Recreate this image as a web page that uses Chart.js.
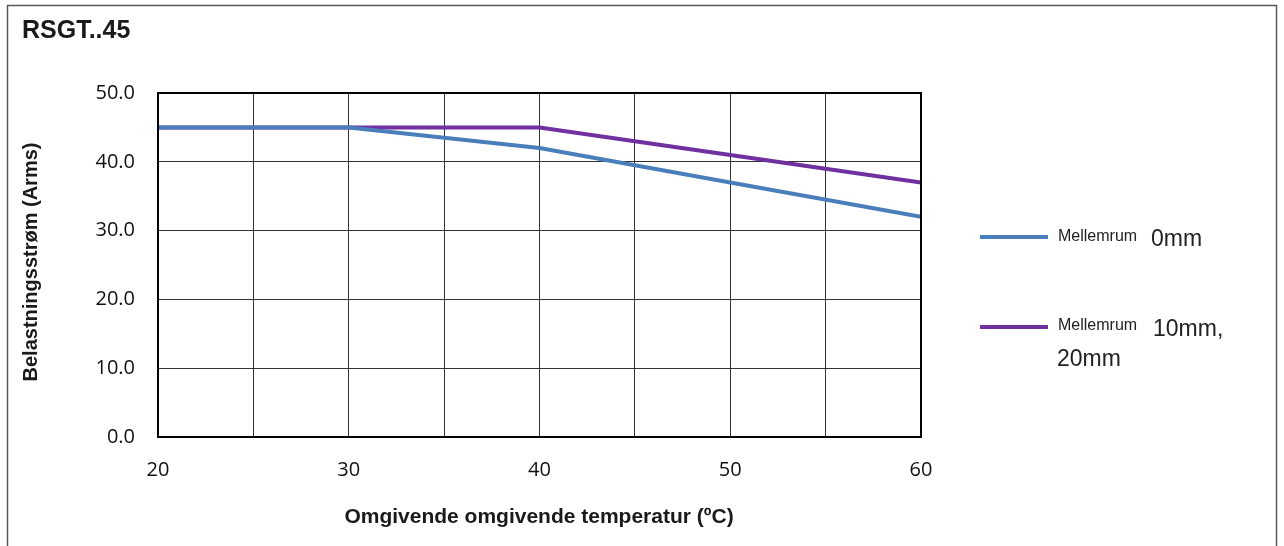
<!DOCTYPE html>
<html><head><meta charset="utf-8">
<script src="https://cdn.jsdelivr.net/npm/chart.js@4.4.1/dist/chart.umd.min.js"></script>
<style>html,body{margin:0;padding:0;background:#fff}#wrap{width:1284px;height:546px}</style>
</head><body><div id="wrap"><canvas id="c" width="1284" height="546"></canvas></div>
<script>
const chartTitle = 'RSGT..45';
const xTitle = 'Omgivende omgivende temperatur (ºC)';
const yTitle = 'Belastningsstrøm (Arms)';
const temperatures = [20, 30, 40, 50, 60];
const gap0mm = [45, 45, 42, 37, 32];
const gap10_20mm = [45, 45, 45, 41, 37];
const xTickLabels = ['20', '30', '40', '50', '60'];
const yTickLabels = ['0.0', '10.0', '20.0', '30.0', '40.0', '50.0'];
const legendSmall = ['Mellemrum', 'Mellemrum'];
const legendLarge = [['0mm'], ['10mm,', '20mm']];

const blue = '#4A7EBB', purple = '#7030A0';

const extras = {
  id: 'extras',
  afterDraw(chart) {
    const ctx = chart.ctx, a = chart.chartArea;
    ctx.save();
    // outer frame
    ctx.strokeStyle = '#595959'; ctx.lineWidth = 1.5;
    ctx.strokeRect(7.5, 5.5, 1269, 560);
    // plot border
    ctx.strokeStyle = '#000'; ctx.lineWidth = 2;
    ctx.strokeRect(a.left, a.top, a.right - a.left, a.bottom - a.top);
    // title
    ctx.fillStyle = '#1a1a1a';
    ctx.font = 'bold 25px "Liberation Sans", Arial, sans-serif';
    ctx.textAlign = 'left'; ctx.textBaseline = 'alphabetic';
    ctx.fillText(chartTitle, 22, 38);
    // x title
    ctx.font = 'bold 21px "Liberation Sans", Arial, sans-serif';
    ctx.textAlign = 'center';
    ctx.fillText(xTitle, 539, 523);
    // y title
    ctx.save();
    ctx.translate(37, 262); ctx.rotate(-Math.PI / 2);
    ctx.font = 'bold 20px "Liberation Sans", Arial, sans-serif';
    ctx.fillText(yTitle, 0, 0);
    ctx.restore();
    // legend
    const entries = [{c: blue, y: 237, sb: 241, lb: 246, lx: 1151},
                     {c: purple, y: 327, sb: 330, lb: 336, lx: 1153}];
    entries.forEach((e, i) => {
      ctx.strokeStyle = e.c; ctx.lineWidth = 4;
      ctx.beginPath(); ctx.moveTo(980, e.y); ctx.lineTo(1048, e.y); ctx.stroke();
      ctx.fillStyle = '#222';
      ctx.textAlign = 'left';
      ctx.font = '16px "Liberation Sans", Arial, sans-serif';
      ctx.fillText(legendSmall[i], 1058, e.sb);
      ctx.font = '23px "Liberation Sans", Arial, sans-serif';
      const lines = legendLarge[i];
      ctx.fillText(lines[0], e.lx, e.lb);
      if (lines[1]) ctx.fillText(lines[1], 1057, e.lb + 30);
    });
    ctx.restore();
  }
};

new Chart(document.getElementById('c'), {
  type: 'line',
  data: {
    datasets: [
      { label: 'Mellemrum 0mm', data: temperatures.map((t, i) => ({x: t, y: gap0mm[i]})),
        borderColor: blue, borderWidth: 4, pointRadius: 0, tension: 0, fill: false },
      { label: 'Mellemrum 10mm, 20mm', data: temperatures.map((t, i) => ({x: t, y: gap10_20mm[i]})),
        borderColor: purple, borderWidth: 4, pointRadius: 0, tension: 0, fill: false }
    ]
  },
  options: {
    responsive: false, animation: false, devicePixelRatio: 1,
    layout: { padding: { top: 93, right: 363, left: 0, bottom: 0 } },
    plugins: { legend: { display: false }, tooltip: { enabled: false } },
    scales: {
      x: {
        type: 'linear', min: 20, max: 60,
        afterFit(s) { s.height = 109; },
        grid: { color: '#333', lineWidth: 1, drawTicks: false },
        border: { display: false },
        ticks: {
          stepSize: 5, padding: 21, color: '#111',
          font: { family: '"Open Sans", "DejaVu Sans", sans-serif', size: 20 },
          callback(v) { const i = xTickLabels.indexOf(String(v)); return i >= 0 ? xTickLabels[i] : ''; }
        }
      },
      y: {
        min: 0, max: 50,
        afterFit(s) { s.width = 158; },
        grid: { color: '#333', lineWidth: 1, drawTicks: false },
        border: { display: false },
        ticks: {
          stepSize: 10, padding: 23, color: '#111',
          font: { family: '"Open Sans", "DejaVu Sans", sans-serif', size: 20 },
          callback(v) { return yTickLabels[Math.round(v / 10)]; }
        }
      }
    }
  },
  plugins: [extras]
});
</script></body></html>
